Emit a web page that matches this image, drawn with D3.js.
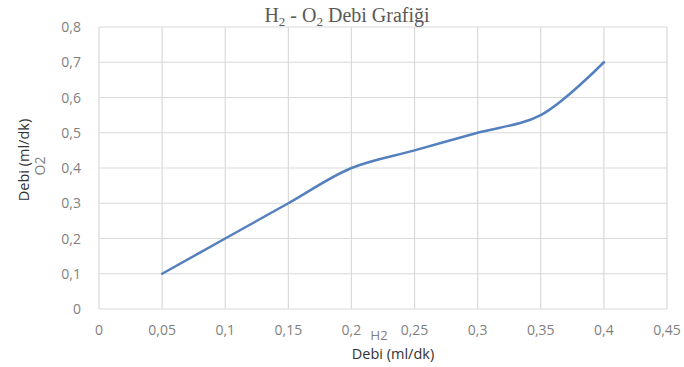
<!DOCTYPE html>
<html>
<head>
<meta charset="utf-8">
<script src="https://cdn.jsdelivr.net/npm/d3@7"></script>
<style>
  body { margin: 0; background: #fff; }
  svg { display: block; }
</style>
</head>
<body>
<svg id="chart" width="684" height="367"></svg>
<script>
// H2 flow (x) and O2 flow (y), ml/dk
const h2Flow = [0.05, 0.1, 0.15, 0.2, 0.25, 0.3, 0.35, 0.4];
const o2Flow = [0.1, 0.2, 0.3, 0.4, 0.45, 0.5, 0.55, 0.7];
const xTicks = [0, 0.05, 0.1, 0.15, 0.2, 0.25, 0.3, 0.35, 0.4, 0.45];
const yTicks = [0, 0.1, 0.2, 0.3, 0.4, 0.5, 0.6, 0.7, 0.8];

const svg = d3.select("#chart");
const fmt = d => String(d).replace(".", ",");

const x = d3.scaleLinear().domain([0, 0.45]).range([99, 667]);
const y = d3.scaleLinear().domain([0, 0.8]).range([309, 27]);

// grid
svg.append("g")
    .selectAll("line")
    .data(xTicks)
    .join("line")
    .attr("x1", d => x(d)).attr("x2", d => x(d))
    .attr("y1", y(0.8)).attr("y2", y(0))
    .attr("stroke", "#d9d9d9").attr("stroke-width", 1.2);

svg.append("g")
    .selectAll("line")
    .data(yTicks)
    .join("line")
    .attr("x1", x(0)).attr("x2", x(0.45))
    .attr("y1", d => y(d)).attr("y2", d => y(d))
    .attr("stroke", "#d9d9d9").attr("stroke-width", 1.2);

// tick labels
svg.append("g")
    .selectAll("text")
    .data(xTicks)
    .join("text")
    .attr("x", d => x(d))
    .attr("y", 335)
    .attr("text-anchor", "middle")
    .attr("font-family", "Open Sans, sans-serif")
    .attr("font-size", 14)
    .attr("fill", "#7f7f7f")
    .text(fmt);

svg.append("g")
    .selectAll("text")
    .data(yTicks)
    .join("text")
    .attr("x", 81)
    .attr("y", d => y(d) + 5)
    .attr("text-anchor", "end")
    .attr("font-family", "Open Sans, sans-serif")
    .attr("font-size", 14)
    .attr("fill", "#7f7f7f")
    .text(fmt);

// axis titles
svg.append("text")
    .attr("x", 379).attr("y", 340)
    .attr("text-anchor", "middle")
    .attr("font-family", "Open Sans, sans-serif")
    .attr("font-size", 13.5)
    .attr("fill", "#7f7f7f")
    .text("H2");
svg.append("text")
    .attr("x", 393).attr("y", 359)
    .attr("text-anchor", "middle")
    .attr("font-family", "Open Sans, sans-serif")
    .attr("font-size", 14.5)
    .attr("fill", "#333")
    .text("Debi (ml/dk)");

svg.append("text")
    .attr("transform", "translate(29,160) rotate(-90)")
    .attr("text-anchor", "middle")
    .attr("font-family", "Open Sans, sans-serif")
    .attr("font-size", 14.5)
    .attr("fill", "#333")
    .text("Debi (ml/dk)");
svg.append("text")
    .attr("transform", "translate(45,166) rotate(-90)")
    .attr("text-anchor", "middle")
    .attr("font-family", "Open Sans, sans-serif")
    .attr("font-size", 14)
    .attr("fill", "#7f7f7f")
    .text("O2");

// title
const title = svg.append("text")
    .attr("x", 347).attr("y", 22)
    .attr("text-anchor", "middle")
    .attr("font-family", "Liberation Serif, serif")
    .attr("font-size", 20)
    .attr("fill", "#595959");
title.append("tspan").text("H");
title.append("tspan").attr("font-size", 13).attr("dy", 4).text("2");
title.append("tspan").attr("dy", -4).text(" - O");
title.append("tspan").attr("font-size", 13).attr("dy", 4).text("2");
title.append("tspan").attr("dy", -4).text(" Debi Grafiği");

// series
const pts = h2Flow.map((d, i) => [d, o2Flow[i]]);
svg.append("path")
    .datum(pts)
    .attr("fill", "none")
    .attr("stroke", "#5580bf")
    .attr("stroke-width", 2.5)
    .attr("stroke-linecap", "round")
    .attr("d", d3.line()
        .x(d => x(d[0]))
        .y(d => y(d[1]))
        .curve(d3.curveCatmullRom.alpha(0.5)));
</script>
</body>
</html>
